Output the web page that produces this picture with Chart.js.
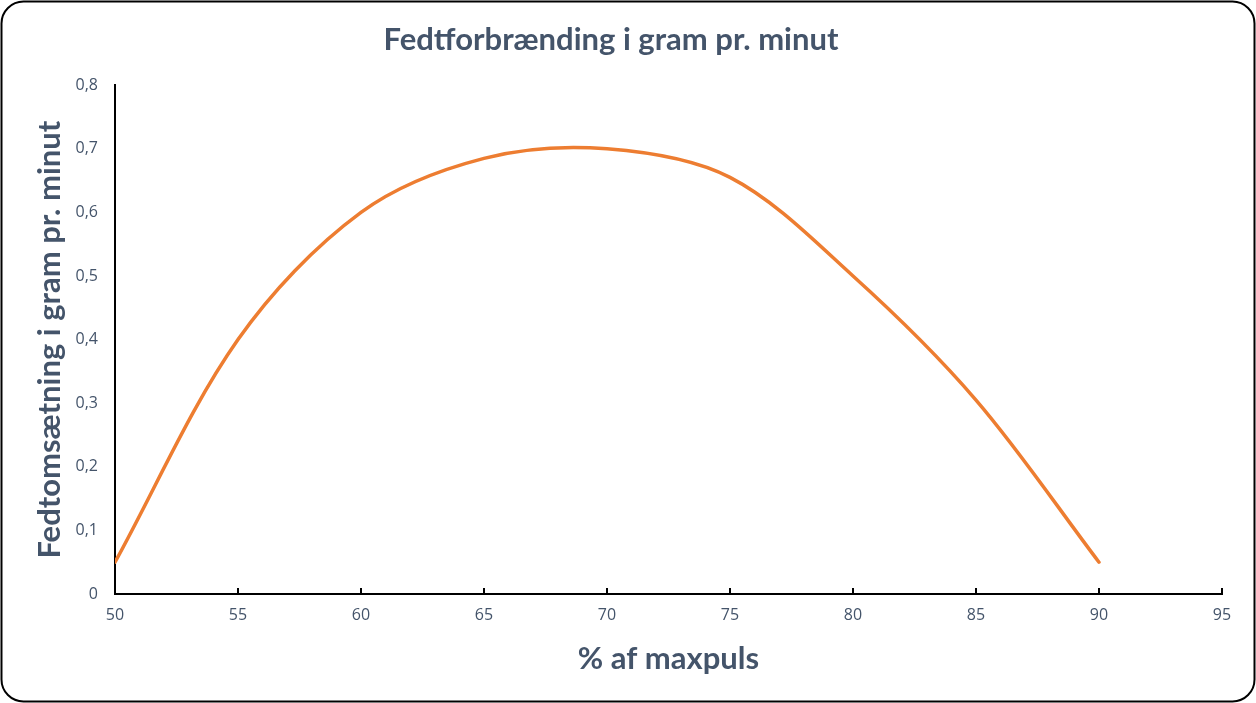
<!DOCTYPE html>
<html>
<head>
<meta charset="utf-8">
<script src="https://cdn.jsdelivr.net/npm/chart.js@4.4.0/dist/chart.umd.min.js"></script>
<style>
  html, body { margin: 0; padding: 0; background: #fff; }
  #wrap { width: 1256px; height: 703px; }
</style>
</head>
<body>
<div id="wrap"><canvas id="fedtChart" width="1256" height="703"></canvas></div>
<script>
// ── Data ──────────────────────────────────────────────────
const pulsPct = [50, 55, 60, 65, 70, 75, 80, 85, 90];
const fedtGram = [0.05, 0.40, 0.60, 0.685, 0.70, 0.655, 0.50, 0.305, 0.05];
const xTicks = [50, 55, 60, 65, 70, 75, 80, 85, 90, 95];
const yTicks = [0, 0.1, 0.2, 0.3, 0.4, 0.5, 0.6, 0.7, 0.8];

const chartTitle = 'Fedtforbrænding i gram pr. minut';
const xTitle = '% af maxpuls';
const yTitle = 'Fedtomsætning i gram pr. minut';

const TXT = '#44546A';
const ORANGE = '#ED7D31';

function fmtDa(v) {
  return v === 0 ? '0' : v.toFixed(1).replace('.', ',');
}

// ── Plugins ───────────────────────────────────────────────

// rammen rundt om hele diagrammet
const frame = {
  id: 'frame',
  beforeDraw(chart) {
    const ctx = chart.ctx;
    ctx.save();
    ctx.fillStyle = '#fff';
    ctx.fillRect(0, 0, chart.width, chart.height);
    ctx.beginPath();
    ctx.roundRect(1.5, 1.5, chart.width - 3, chart.height - 3, 22);
    ctx.strokeStyle = '#000';
    ctx.lineWidth = 2;
    ctx.stroke();
    ctx.restore();
  },
};

// små tick-streger på x-aksen, indad
const innerTicks = {
  id: 'innerTicks',
  afterDraw(chart) {
    const sx = chart.scales.x;
    const ctx = chart.ctx;
    ctx.save();
    ctx.strokeStyle = '#000';
    ctx.lineWidth = 2;
    sx.ticks.forEach(t => {
      const px = Math.round(sx.getPixelForValue(t.value));
      ctx.beginPath();
      ctx.moveTo(px, sx.top);
      ctx.lineTo(px, sx.top - 6);
      ctx.stroke();
    });
    ctx.restore();
  },
};

// ── Chart ─────────────────────────────────────────────────

const titleFont = { family: 'Lato', size: 31, weight: 'bold', lineHeight: 1.2 };
const tickFont = { family: 'Open Sans', size: 16 };

new Chart(document.getElementById('fedtChart'), {
  type: 'scatter',
  data: {
    datasets: [{
      label: 'Fedt',
      data: pulsPct.map((x, i) => ({ x, y: fedtGram[i] })),
      showLine: true,
      borderColor: ORANGE,
      borderWidth: 3.5,
      pointRadius: 0,
      tension: 0.33,
      borderCapStyle: 'round',
    }],
  },
  options: {
    responsive: false,
    animation: false,
    layout: { padding: { top: 0, left: 0, right: 34, bottom: 0 } },
    plugins: {
      legend: { display: false },
      tooltip: { enabled: false },
      title: {
        display: true,
        text: chartTitle,
        color: TXT,
        font: titleFont,
        padding: { top: 21, bottom: 27 },
      },
    },
    scales: {
      x: {
        type: 'linear',
        min: 50,
        max: 95,
        afterBuildTicks: (s) => { s.ticks = xTicks.map(v => ({ value: v })); },
        afterFit: (s) => { s.height = 109; },
        grid: { display: false, drawTicks: false },
        border: { display: true, color: '#000', width: 2 },
        ticks: {
          color: TXT,
          padding: 12,
          font: tickFont,
          callback: (v) => String(v),
        },
        title: {
          display: true,
          text: xTitle,
          color: TXT,
          font: titleFont,
          padding: { top: 0, bottom: 25 },
        },
      },
      y: {
        type: 'linear',
        min: 0,
        max: 0.8,
        afterBuildTicks: (s) => { s.ticks = yTicks.map(v => ({ value: v })); },
        afterFit: (s) => { s.width = 115; },
        grid: { display: false, drawTicks: false },
        border: { display: true, color: '#000', width: 2 },
        ticks: {
          color: TXT,
          padding: 17,
          font: tickFont,
          callback: (v) => fmtDa(v),
        },
        title: {
          display: true,
          text: yTitle,
          color: TXT,
          font: titleFont,
          padding: { top: 31, bottom: 0 },
        },
      },
    },
  },
  plugins: [frame, innerTicks],
});
</script>
</body>
</html>
